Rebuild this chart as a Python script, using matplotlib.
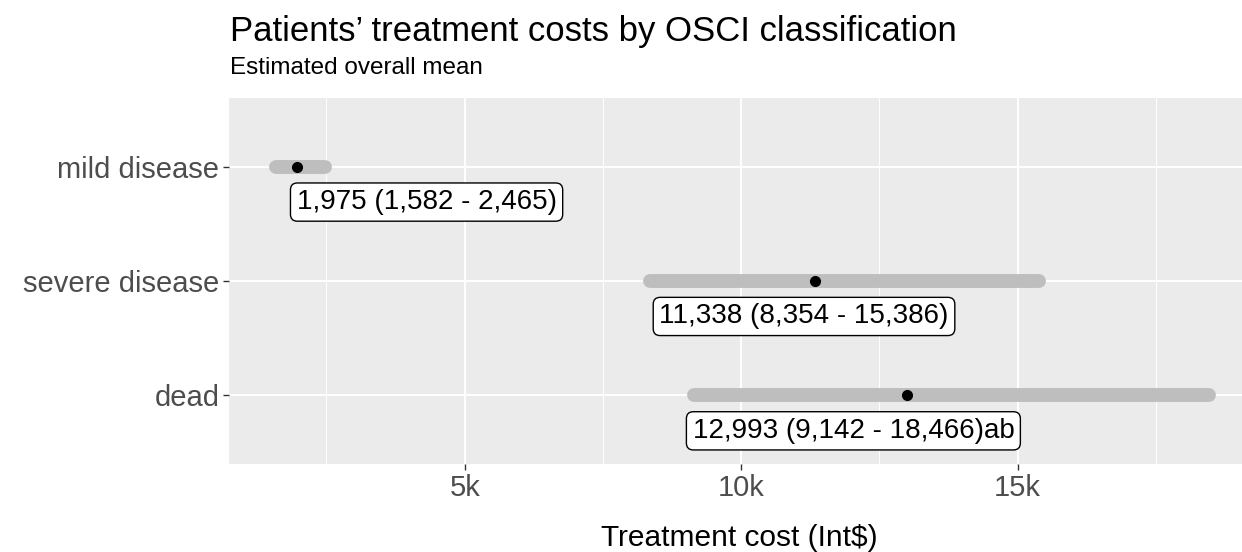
import matplotlib
matplotlib.use("Agg")
import matplotlib.pyplot as plt
from matplotlib.ticker import FuncFormatter, MultipleLocator

plt.rcParams['font.family'] = ['Liberation Sans', 'DejaVu Sans']

categories = ["mild disease", "severe disease", "dead"]
means = [1975, 11338, 12993]
lows = [1582, 8354, 9142]
highs = [2465, 15386, 18466]
labels = ["1,975 (1,582 - 2,465)", "11,338 (8,354 - 15,386)", "12,993 (9,142 - 18,466)ab"]
label_x = [1960, 8520, 9120]

fig = plt.figure(figsize=(12.42, 5.52), dpi=100)
ax = fig.add_axes([229/1242, 1-464/552, 1-229/1242, (464-98)/552])
ax.set_facecolor('#EBEBEB')
for s in ax.spines.values():
    s.set_visible(False)

ypos = list(range(len(categories)))
for y, lo, hi, m, lab, lx in zip(ypos, lows, highs, means, labels, label_x):
    ax.plot([lo, hi], [y, y], color='#BEBEBE', lw=10, solid_capstyle='round', zorder=3)
    ax.plot([m], [y], 'o', color='black', ms=7, zorder=4)
    ax.text(lx, y + 0.31, lab, ha='left', va='center', fontsize=20, color='black', zorder=5,
            bbox=dict(boxstyle='round,pad=0.22,rounding_size=0.25', fc='white', ec='black', lw=1))

ax.set_ylim(2.6, -0.6)
ax.set_xlim(738, 738 + (19310 - 738) * (1242 - 229) / (1256 - 229))
ax.set_yticks(ypos)
ax.set_yticklabels(categories)
ax.xaxis.set_major_locator(MultipleLocator(5000))
ax.xaxis.set_minor_locator(MultipleLocator(2500))
ax.xaxis.set_major_formatter(FuncFormatter(lambda v, p: f"{int(v/1000)}k"))
ax.grid(which='major', color='white', lw=1.4)
ax.grid(which='minor', axis='x', color='white', lw=0.7)
ax.set_axisbelow(True)
ax.tick_params(which='major', length=4, width=1, color='#333333', labelsize=21, labelcolor='#4D4D4D', pad=3)
ax.tick_params(which='minor', length=0)

fig.text((229 + 1242) / 2 / 1242 + 0.003, 1-546/552, "Treatment cost (Int$)", fontsize=21.5, ha='center', va='baseline')
fig.text(230/1242, 1-41/552, "Patients’ treatment costs by OSCI classification", fontsize=25, ha='left', va='baseline')
fig.text(230/1242, 1-74/552, "Estimated overall mean", fontsize=17.5, ha='left', va='baseline')

fig.savefig("out.png", dpi=100)
